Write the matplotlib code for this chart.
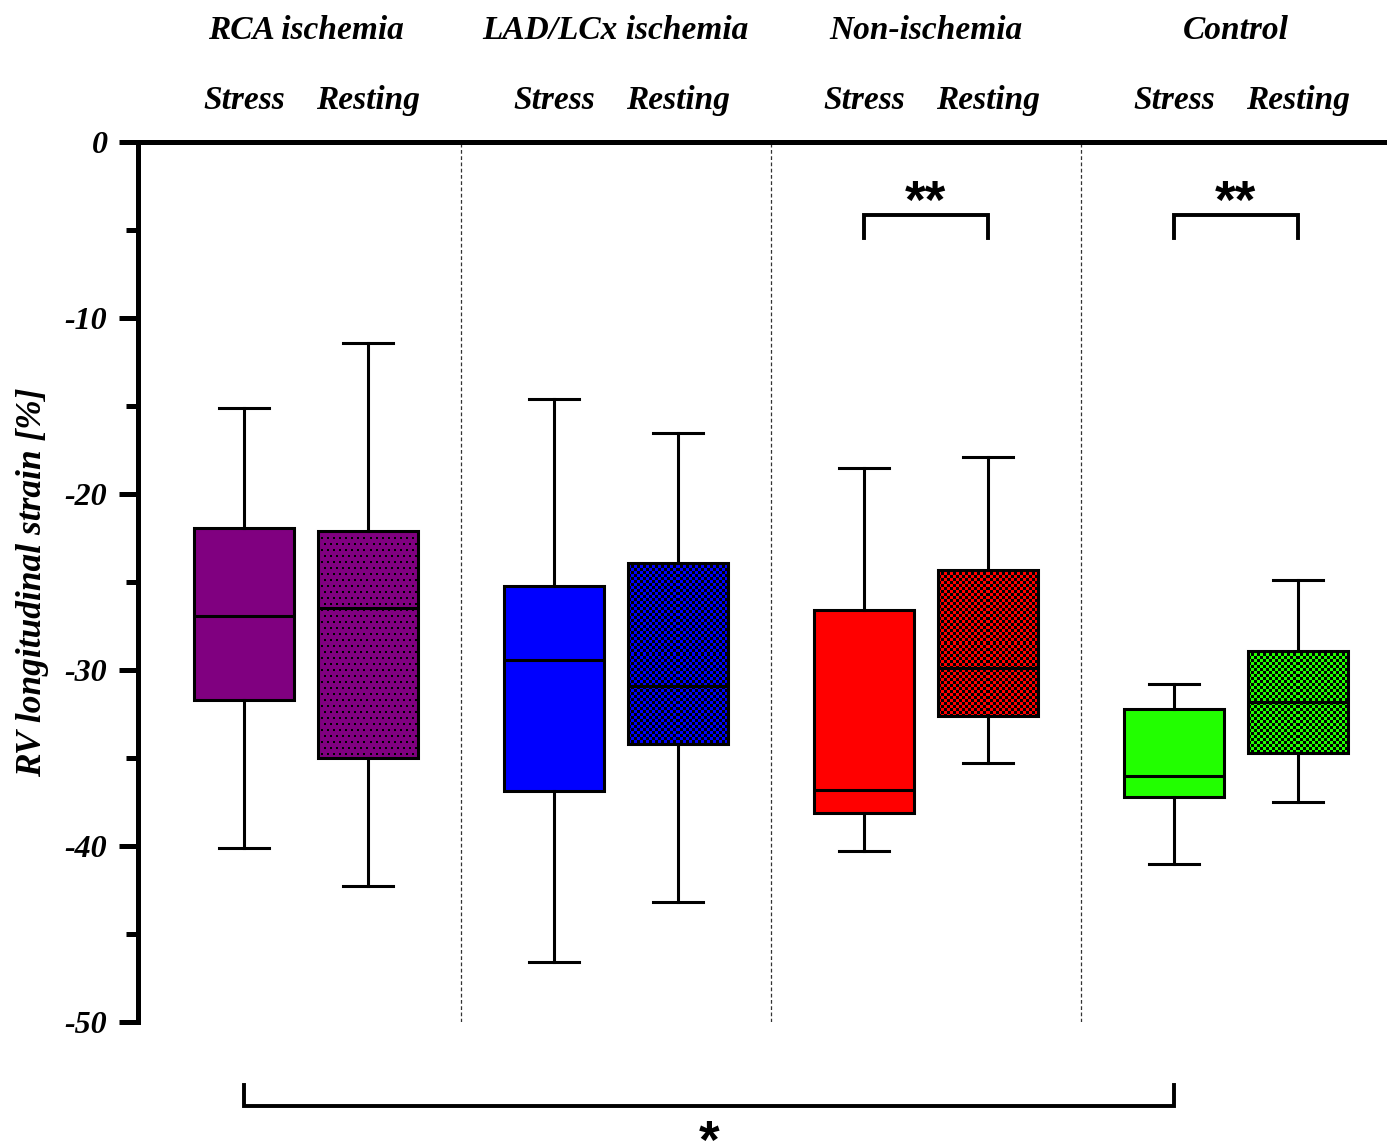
import numpy as np
import matplotlib.pyplot as plt
from matplotlib.colors import to_rgb

plt.rcParams['font.family'] = ['Liberation Serif', 'DejaVu Serif']
plt.rcParams['font.weight'] = 'bold'
plt.rcParams['font.style'] = 'italic'
plt.rcParams['axes.unicode_minus'] = False

groups = ['RCA ischemia', 'LAD/LCx ischemia', 'Non-ischemia', 'Control']
conditions = ['Stress', 'Resting']
colors = ['#800080', '#0000ff', '#ff0000', '#22ff00']

# whisker low, Q1, median, Q3, whisker high  (stress, resting) per group
whislo = [[-40.1, -42.3], [-46.6, -43.2], [-40.3, -35.3], [-41.0, -37.5]]
q1 = [[-31.7, -35.0], [-36.9, -34.2], [-38.1, -32.6], [-37.2, -34.7]]
med = [[-26.9, -26.5], [-29.4, -30.9], [-36.8, -29.9], [-36.0, -31.8]]
q3 = [[-21.9, -22.1], [-25.2, -23.9], [-26.6, -24.3], [-32.2, -28.9]]
whishi = [[-15.1, -11.4], [-14.6, -16.5], [-18.5, -17.9], [-30.8, -24.9]]
resting_fill = ['dots', 'checker', 'checker', 'checker']

W, H = 1387, 1147
fig = plt.figure(figsize=(W / 100, H / 100), dpi=100)
ax = fig.add_axes([0.0995, 0.109, 0.9005, 0.767])
xlim = (-0.855, 9.22)
ylim = (-50, 0)
px_x = 0.9005 * W / (xlim[1] - xlim[0])
px_y = 0.767 * H / (ylim[1] - ylim[0])


def pattern(kind, color, w, h):
    # pixel-level fill: black dots or black/colour checkerboard
    i, j = np.mgrid[0:h, 0:w]
    if kind == 'dots':
        mask = ((i % 6) < 2) & (((j + 3 * ((i // 6) % 2)) % 6) < 2)
    else:
        mask = ((i // 3 + j // 3) % 2) == 0
    img = np.ones((h, w, 3)) * np.array(to_rgb(color))
    img[mask] = 0
    return img


stats, pos, faces = [], [], []
for g in range(4):
    for c in range(2):
        stats.append(dict(whislo=whislo[g][c], q1=q1[g][c], med=med[g][c],
                          q3=q3[g][c], whishi=whishi[g][c], fliers=[]))
        pos.append(g * 2.5 + c)
        faces.append(colors[g])

lw = 2.2
bw = 0.81
bp = ax.bxp(stats, positions=pos, widths=bw, capwidths=0.4, patch_artist=True,
            showfliers=False,
            boxprops=dict(linewidth=lw, edgecolor='black'),
            medianprops=dict(linewidth=lw, color='black'),
            whiskerprops=dict(linewidth=lw, color='black'),
            capprops=dict(linewidth=lw, color='black'))
for k, (box, fc) in enumerate(zip(bp['boxes'], faces)):
    box.set_facecolor(fc)
    if k % 2 == 1:
        g = k // 2
        x0, x1 = pos[k] - bw / 2, pos[k] + bw / 2
        y0, y1 = q1[g][1], q3[g][1]
        w = int(round((x1 - x0) * px_x))
        h = int(round((y1 - y0) * px_y))
        im = ax.imshow(pattern(resting_fill[g], fc, w, h), extent=[x0, x1, y0, y1],
                       aspect='auto', interpolation='nearest', zorder=1.95)
        im.set_clip_path(box)
        box.set_facecolor('none')

ax.set_xlim(*xlim)
ax.set_ylim(*ylim)
ax.set_yticks(np.arange(-50, 1, 10))
ax.set_yticks(np.arange(-45, 0, 10), minor=True)
ax.set_xticks([])
ax.tick_params(axis='y', which='major', length=14, width=3.6, labelsize=23, pad=8)
ax.tick_params(axis='y', which='minor', length=9, width=3.6)
for s in ['left', 'top']:
    ax.spines[s].set_linewidth(3.6)
for s in ['right', 'bottom']:
    ax.spines[s].set_visible(False)
ax.set_ylabel('RV longitudinal strain [%]', fontsize=25.5, fontweight='bold',
              fontstyle='italic')
ax.yaxis.set_label_coords(-0.071, 0.5)

for xd in [1.75, 4.25, 6.75]:
    ax.axvline(xd, color='#333333', lw=0.9, ls=(0, (3, 2)), zorder=1)

# group and condition headings
for g, name in enumerate(groups):
    ax.text(g * 2.5 + 0.5, 6.35, name, ha='center', va='center', fontsize=24, clip_on=False)
    for c, cond in enumerate(conditions):
        ax.text(g * 2.5 + c, 2.35, cond, ha='center', va='center', fontsize=24, clip_on=False)

# significance brackets
star_font = dict(fontsize=38, fontstyle='normal', fontweight='bold',
                 fontfamily='Liberation Sans')
for g in [2, 3]:
    x0, x1 = g * 2.5, g * 2.5 + 1
    ax.plot([x0, x0, x1, x1], [-5.45, -4.15, -4.15, -5.45], color='black', lw=2.8,
            solid_joinstyle='miter')
    ax.text((x0 + x1) / 2, -4.33, '**', ha='center', va='baseline', **star_font)

ax.plot([0, 0, 7.5, 7.5], [-53.6, -54.8, -54.8, -53.6], color='black', lw=2.8,
        clip_on=False, solid_joinstyle='miter')
ax.text(3.75, -57.75, '*', ha='center', va='baseline', clip_on=False, **star_font)

plt.savefig('out.png')
